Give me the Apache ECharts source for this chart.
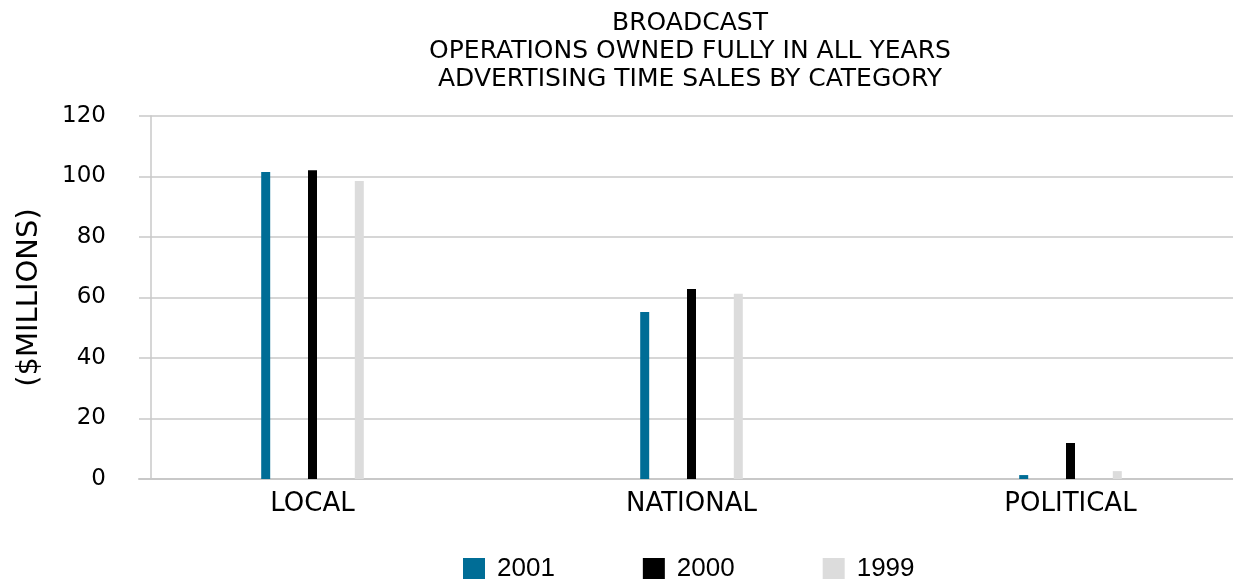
<!DOCTYPE html>
<html>
<head>
<meta charset="utf-8">
<script src="https://cdn.jsdelivr.net/npm/echarts@6/dist/echarts.min.js"></script>
<style>
html,body{margin:0;padding:0;background:#fff;}
#c{width:1233px;height:579px;}
</style>
</head>
<body>
<div id="c"></div>
<script>
const titleLines = ['BROADCAST', 'OPERATIONS OWNED FULLY IN ALL YEARS', 'ADVERTISING TIME SALES BY CATEGORY'];
const categories = ['LOCAL', 'NATIONAL', 'POLITICAL'];
const seriesNames = ['2001', '2000', '1999'];
const values2001 = [101.5, 55.2, 1.3];
const values2000 = [102.1, 62.8, 11.9];
const values1999 = [98.5, 61.2, 2.6];
const yTicks = [0, 20, 40, 60, 80, 100, 120];
const colors = ['#006d96', '#000000', '#dcdcdc'];
const FONT = 'DejaVu Sans';

const chart = echarts.init(document.getElementById('c'));
const seriesData = [values2001, values2000, values1999];
const yMin = yTicks[0], yMax = yTicks[yTicks.length - 1];
chart.setOption({
  animation: false,
  backgroundColor: '#ffffff',
  title: {
    text: titleLines.join('\n'),
    left: 685,
    textAlign: 'center',
    top: 4,
    textStyle: { fontFamily: FONT, fontSize: 25, fontWeight: 'normal', color: '#000', lineHeight: 28 }
  },
  legend: {
    data: seriesNames,
    top: 551,
    left: 458,
    itemWidth: 22,
    itemHeight: 22,
    itemGap: 88,
    icon: 'rect',
    textStyle: { fontFamily: 'Liberation Sans', fontSize: 26, color: '#000', padding: [0, 0, 0, 7] }
  },
  grid: [
    { left: 123, right: -27, top: 116, bottom: 100, containLabel: false, outerBoundsMode: 'none' },
    { left: 139, right: 0, top: 116, bottom: 100, containLabel: false, outerBoundsMode: 'none' }
  ],
  xAxis: [
    {
      type: 'category',
      gridIndex: 0,
      data: categories,
      axisLine: { show: false },
      axisTick: { show: false },
      axisLabel: { fontFamily: FONT, fontSize: 26, color: '#000', margin: 12 }
    },
    {
      type: 'category',
      gridIndex: 1,
      data: categories,
      axisLine: { show: true, lineStyle: { color: '#c8c8c8', width: 2 } },
      axisTick: { show: false },
      axisLabel: { show: false }
    }
  ],
  yAxis: [
    {
      type: 'value',
      gridIndex: 0,
      min: yMin,
      max: yMax,
      interval: 20,
      show: false,
      splitLine: { show: false }
    },
    {
      type: 'value',
      gridIndex: 1,
      min: yMin,
      max: yMax,
      interval: 20,
      offset: -12,
      name: '($MILLIONS)',
      nameLocation: 'middle',
      nameGap: 107,
      nameRotate: 90,
      nameTextStyle: { fontFamily: FONT, fontSize: 29, color: '#000' },
      axisLine: { show: true, lineStyle: { color: '#c8c8c8', width: 1.5 } },
      axisTick: { show: false },
      axisLabel: { fontFamily: FONT, fontSize: 23, color: '#000', margin: 45 },
      splitLine: { lineStyle: { color: '#c8c8c8', width: 1.5 } }
    }
  ],
  series: seriesNames.map((n, i) => ({
    name: n,
    type: 'bar',
    xAxisIndex: 0,
    yAxisIndex: 0,
    data: seriesData[i],
    barWidth: 9,
    barGap: '420%',
    z: 5,
    itemStyle: { color: colors[i] }
  }))
});
</script>
</body>
</html>
